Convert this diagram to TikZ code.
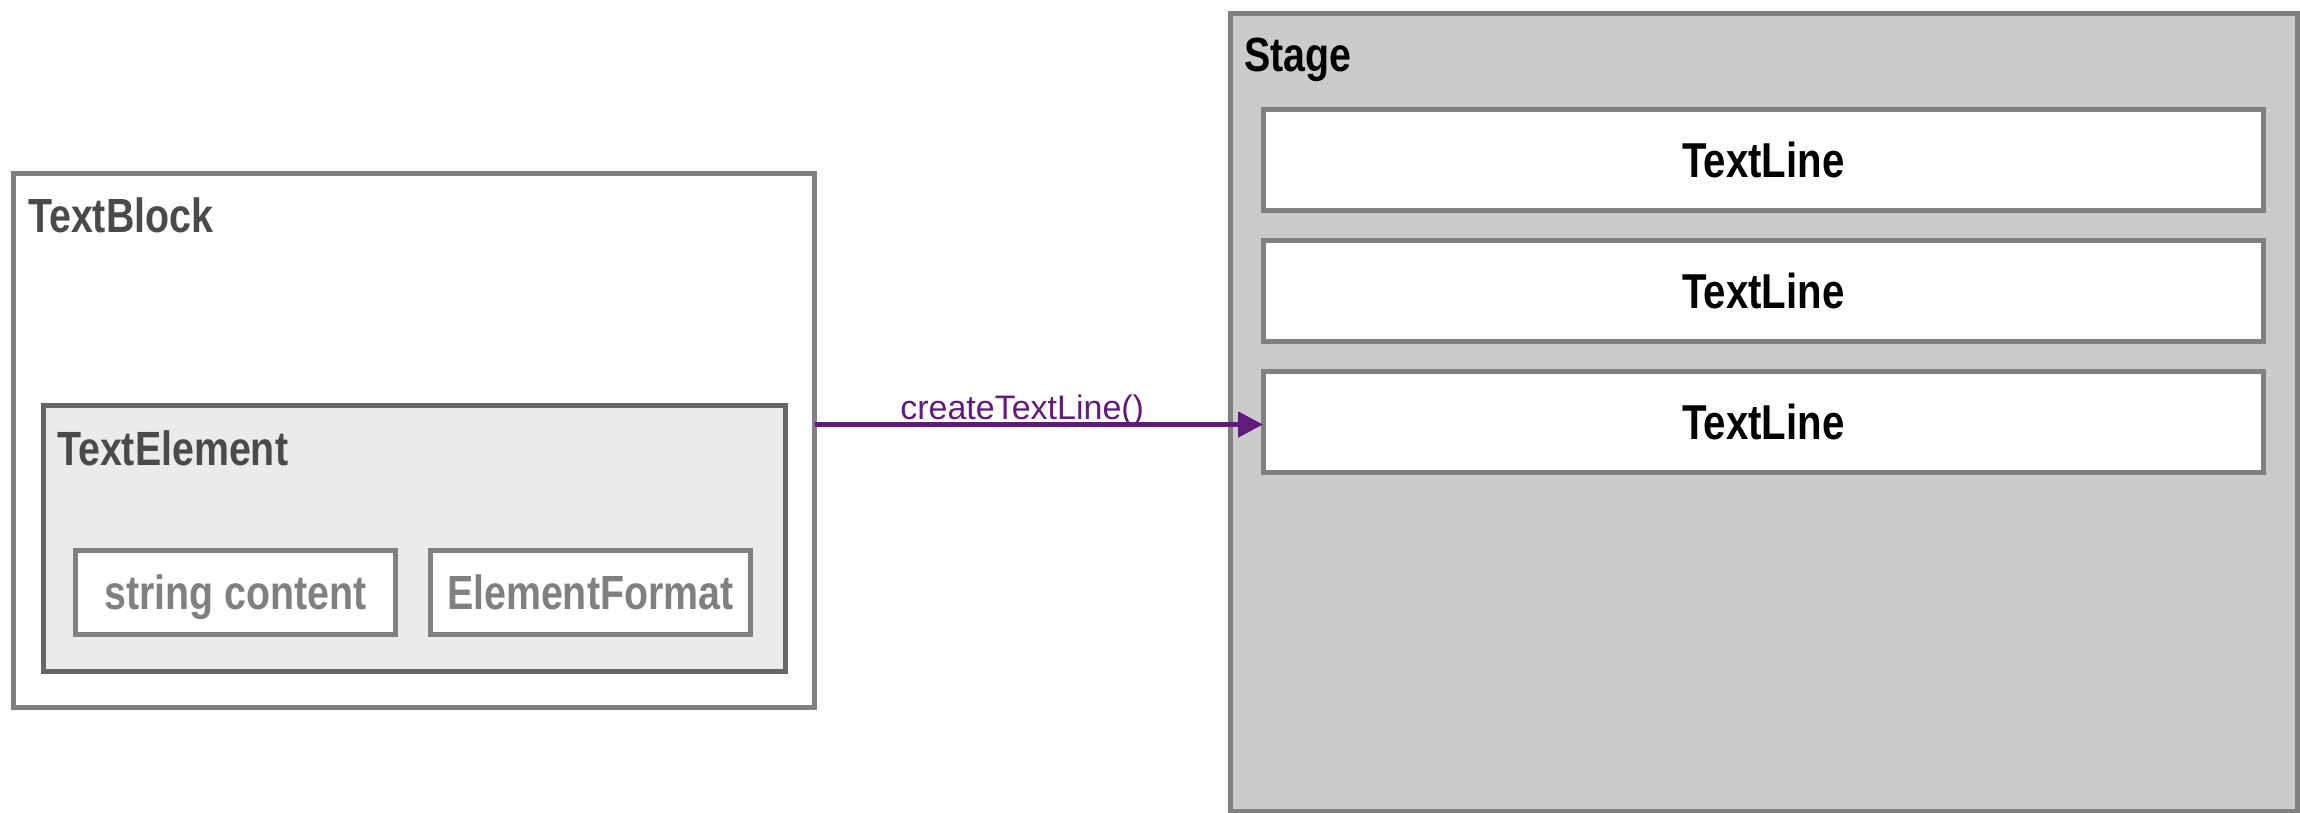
\documentclass[tikz,border=0pt]{standalone}
\usepackage{fontspec}
\setmainfont{Liberation Sans}
\newfontfamily\condfont{Liberation Sans}[FakeStretch=0.82]
\usetikzlibrary{arrows.meta}
\definecolor{boxgray}{RGB}{128,128,128}
\definecolor{elemgray}{RGB}{102,102,102}
\definecolor{elemfill}{RGB}{235,235,235}
\definecolor{stagefill}{RGB}{203,203,203}
\definecolor{titlegray}{RGB}{74,74,74}
\definecolor{arrowpurple}{RGB}{98,26,126}
\tikzset{
  boxbase/.style={rectangle, inner sep=0pt, outer sep=0pt, line width=2.5pt},
  outerbox/.style={boxbase, draw=boxgray, fill=white},
  elembox/.style={boxbase, draw=elemgray, fill=elemfill},
  innerbox/.style={boxbase, draw=boxgray, fill=white, text=boxgray, text depth=0pt,
    font=\condfont\bfseries\fontsize{24pt}{28pt}\selectfont},
  stagebox/.style={boxbase, draw=boxgray, fill=stagefill},
  linebox/.style={boxbase, draw=boxgray, fill=white, text=black,
    font=\condfont\bfseries\fontsize{24.5pt}{28pt}\selectfont},
  titletext/.style={inner sep=0pt, outer sep=0pt, anchor=base west,
    font=\condfont\bfseries\fontsize{24pt}{28pt}\selectfont},
  callarrow/.style={draw=arrowpurple, line width=2.5pt,
    -{Triangle[length=12.5pt,width=12.5pt]}},
  calllabel/.style={inner sep=0pt, text=arrowpurple,
    font=\fontsize{17pt}{20pt}\selectfont}
}
\begin{document}
\begin{tikzpicture}[x=0.5pt,y=-0.5pt]
\useasboundingbox (0,0) rectangle (2300,813);
% TextBlock
\node[outerbox, minimum width=400.5pt, minimum height=266.75pt] (tb) at (414,440.25) {};
\node[titletext, text=titlegray] (tbt) at (28,232) {TextBlock};
% TextElement
\node[elembox, minimum width=371pt, minimum height=133pt] (te) at (414.5,538.5) {};
\node[titletext, text=titlegray] (tet) at (57,465) {TextElement};
\node[innerbox, minimum width=160pt, minimum height=42.25pt] (sc) at (235.5,592.25) {string content};
\node[innerbox, minimum width=160.25pt, minimum height=42.25pt] (ef) at (590.25,592.25) {ElementFormat};
% Stage
\node[stagebox, minimum width=533.5pt, minimum height=398.75pt] (st) at (1764,412.75) {};
\node[titletext, text=black] (stt) at (1244,72) {Stage};
\node[linebox, minimum width=500.25pt, minimum height=50.25pt] (tl1) at (1763.25,160.25) {TextLine};
\node[linebox, minimum width=500.25pt, minimum height=50.5pt] (tl2) at (1763.25,291) {TextLine};
\node[linebox, minimum width=500.25pt, minimum height=50.5pt] (tl3) at (1763.25,422) {TextLine};
% connector
\draw[callarrow] (tb.east |- 0,424.5) -- (tl3.west |- 0,424.5)
  node[calllabel, pos=0.463, anchor=base, yshift=2.75pt] (lbl) {createTextLine()};
\end{tikzpicture}
\end{document}
